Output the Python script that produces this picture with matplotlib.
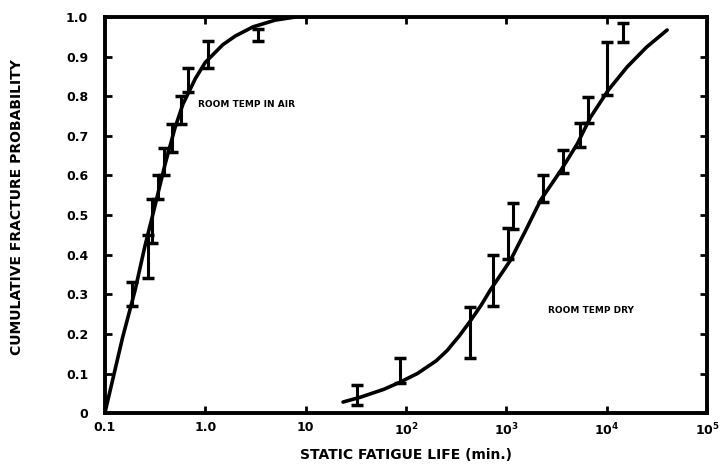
import matplotlib
matplotlib.use("Agg")
import matplotlib.pyplot as plt

# room temp in air: smooth curve
air_life = [0.1, 0.15, 0.2, 0.25, 0.3, 0.35, 0.4, 0.5, 0.6, 0.8, 1.0, 1.5, 2.0, 3.0, 5.0, 8.0]
air_prob = [0.0, 0.19, 0.31, 0.42, 0.50, 0.57, 0.63, 0.72, 0.78, 0.845, 0.885, 0.93, 0.952, 0.975, 0.992, 1.0]

# room temp in air: error bars (life, low, high)
air_bar_life = [0.186, 0.268, 0.294, 0.338, 0.388, 0.466, 0.573, 0.673, 1.06, 3.35]
air_bar_low = [0.27, 0.34, 0.43, 0.54, 0.60, 0.66, 0.73, 0.81, 0.87, 0.94]
air_bar_high = [0.33, 0.45, 0.54, 0.60, 0.67, 0.73, 0.80, 0.87, 0.94, 0.97]

# room temp dry: smooth curve
dry_life = [23.6, 35, 60, 87, 130, 200, 257, 340, 436, 560, 690, 1100, 1550, 2200, 3500,
            5100, 6900, 10350, 16000, 25000, 40000]
dry_prob = [0.028, 0.04, 0.06, 0.078, 0.10, 0.132, 0.158, 0.195, 0.232, 0.272, 0.31, 0.386,
            0.46, 0.538, 0.613, 0.68, 0.747, 0.815, 0.874, 0.924, 0.967]

# room temp dry: error bars
dry_bar_life = [32.5, 87, 435, 738, 1042, 1170, 2330, 3680, 5440, 6550, 10100, 14600]
dry_bar_low = [0.02, 0.076, 0.14, 0.27, 0.39, 0.465, 0.533, 0.606, 0.672, 0.732, 0.803, 0.937]
dry_bar_high = [0.07, 0.14, 0.268, 0.40, 0.467, 0.53, 0.60, 0.664, 0.732, 0.798, 0.937, 0.985]

x_ticks = [0.1, 1, 10, 100, 1000, 10000, 100000]
x_tick_labels = ["0.1", "1.0", "10", "10$^2$", "10$^3$", "10$^4$", "10$^5$"]
y_ticks = [0, 0.1, 0.2, 0.3, 0.4, 0.5, 0.6, 0.7, 0.8, 0.9, 1.0]
y_tick_labels = ["0", "0.1", "0.2", "0.3", "0.4", "0.5", "0.6", "0.7", "0.8", "0.9", "1.0"]

plt.rcParams["font.family"] = ["DejaVu Sans"]
plt.rcParams["font.weight"] = "bold"
plt.rcParams["axes.labelweight"] = "bold"
plt.rcParams["mathtext.default"] = "bf"

fig = plt.figure(figsize=(7.23, 4.70), dpi=100)
ax = fig.add_axes([0.145, 0.121, 0.833, 0.843])


def draw_bars(life, low, high):
    mid = [(a + b) / 2 for a, b in zip(low, high)]
    err = [[m - a for m, a in zip(mid, low)], [b - m for m, b in zip(mid, high)]]
    ax.errorbar(life, mid, yerr=err, fmt="none", ecolor="black",
                elinewidth=2.2, capsize=4, capthick=2.5)


ax.plot(air_life, air_prob, color="black", lw=2.6, solid_capstyle="round")
ax.plot(dry_life, dry_prob, color="black", lw=2.6, solid_capstyle="round")
draw_bars(air_bar_life, air_bar_low, air_bar_high)
draw_bars(dry_bar_life, dry_bar_low, dry_bar_high)

ax.set_xscale("log")
ax.set_xlim(0.1, 1e5)
ax.set_ylim(0, 1.0)
ax.set_xticks(x_ticks)
ax.set_xticklabels(x_tick_labels)
ax.set_yticks(y_ticks)
ax.set_yticklabels(y_tick_labels)
ax.minorticks_off()
ax.tick_params(direction="in", length=5, width=2, top=True, right=True,
               labelsize=9)
ax.tick_params(axis="y", pad=12)
ax.tick_params(axis="x", pad=6)
for sp in ax.spines.values():
    sp.set_linewidth(2.8)

ax.text(0.85, 0.78, "ROOM TEMP IN AIR", fontsize=6.5, fontweight="bold", va="center")
ax.text(2.6e3, 0.26, "ROOM TEMP DRY", fontsize=6.5, fontweight="bold", va="center")

ax.set_xlabel("STATIC FATIGUE LIFE (min.)", fontsize=10, labelpad=7)
ax.set_ylabel("CUMULATIVE FRACTURE PROBABILITY", fontsize=10, labelpad=20)
ax.yaxis.set_label_coords(-0.135, 0.52)

fig.savefig("out.png", dpi=100)
